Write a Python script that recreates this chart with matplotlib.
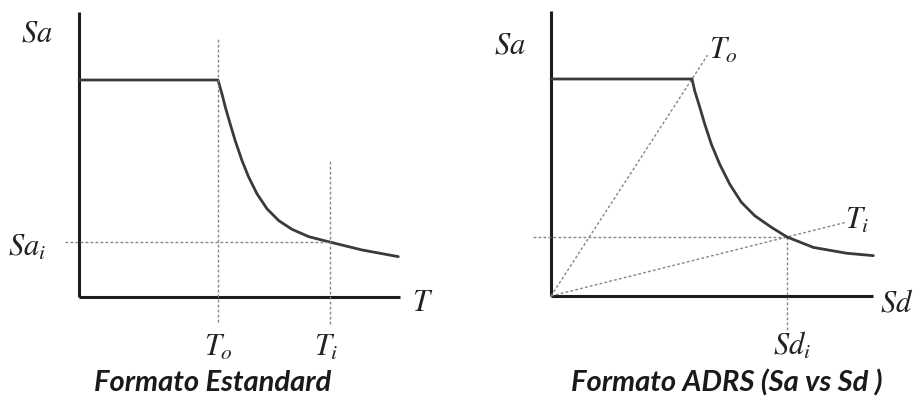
import matplotlib
matplotlib.use('Agg')
import matplotlib.pyplot as plt

# ── Spectrum data (normalised: plateau Sa = 1, corner period / displacement = 1) ──
# Standard format: Sa vs T
t_spec = [0.0, 1.0, 1.029, 1.053, 1.088, 1.124, 1.173, 1.221, 1.281, 1.353,
          1.437, 1.532, 1.653, 1.806, 2.034, 2.297]
sa_spec_t = [1.0, 1.0, 0.935, 0.874, 0.797, 0.720, 0.628, 0.552, 0.475, 0.406,
             0.352, 0.312, 0.278, 0.253, 0.217, 0.186]
t_o, t_i, sa_i_t = 1.0, 1.806, 0.253

# ADRS format: Sa vs Sd
sd_spec = [0.0, 1.0, 1.019, 1.055, 1.090, 1.137, 1.196, 1.267, 1.350, 1.445,
           1.562, 1.674, 1.860, 2.097, 2.286]
sa_spec_d = [1.0, 1.0, 0.946, 0.870, 0.793, 0.700, 0.608, 0.516, 0.432, 0.370,
             0.317, 0.272, 0.224, 0.197, 0.186]
sd_o, sd_i, sa_i_d = 1.0, 1.674, 0.272

# radial period lines (origin -> beyond the spectrum)
ray_o = [1.11, 1.11]
ray_i = [2.093, 0.34]

AXIS_COLOR = '#1c1c1c'
CURVE_COLOR = '#3a3a3a'
DOT_COLOR = '#858585'
DOTS = (0, (2.0, 1.6))

plt.rcParams['mathtext.fontset'] = 'stix'

W, H = 913, 402
fig = plt.figure(figsize=(W / 100, H / 100), dpi=100)


def make_axes(x0_px, y0_px, sx, sy, xlim, ylim):
    """Axes whose data origin lands at pixel (x0_px, y0_px) with sx, sy px per unit."""
    left = (x0_px + xlim[0] * sx) / W
    width = (xlim[1] - xlim[0]) * sx / W
    bottom = (H - y0_px + ylim[0] * sy) / H
    height = (ylim[1] - ylim[0]) * sy / H
    ax = fig.add_axes([left, bottom, width, height])
    ax.set_xlim(*xlim)
    ax.set_ylim(*ylim)
    ax.axis('off')
    return ax


lab = dict(fontsize=22, color='#222222', ha='center', va='center')

# ── Left: standard format ──────────────────────────────────────────────────
ax1 = make_axes(79, 298, 139, 217, (-0.55, 2.7), (-0.4, 1.37))
ax1.plot([0, 0], [0, 1.313], color=AXIS_COLOR, lw=2.2, solid_capstyle='butt')
ax1.plot([0, 2.31], [0, 0], color=AXIS_COLOR, lw=2.2, solid_capstyle='butt')
ax1.plot(t_spec, sa_spec_t, color=CURVE_COLOR, lw=2.0,
         solid_joinstyle='round', solid_capstyle='round')
ax1.plot([t_o, t_o], [-0.115, 1.189], color=DOT_COLOR, lw=1.0, ls=DOTS)
ax1.plot([t_i, t_i], [-0.124, 0.627], color=DOT_COLOR, lw=1.0, ls=DOTS)
ax1.plot([-0.1, t_i], [sa_i_t, sa_i_t], color=DOT_COLOR, lw=1.0, ls=DOTS)

ax1.text(-0.30, 1.221, r'$Sa$', **lab)
ax1.text(-0.37, sa_i_t - 0.02, r'$Sa_i$', **lab)
ax1.text(2.475, -0.023, r'$T$', **lab)
ax1.text(t_o, -0.226, r'$T_o$', **lab)
ax1.text(t_i - 0.03, -0.226, r'$T_i$', **lab)

# ── Right: ADRS format ─────────────────────────────────────────────────────
ax2 = make_axes(551, 297, 141, 217, (-0.45, 2.58), (-0.4, 1.37))
ax2.plot([0, 0], [0, 1.313], color=AXIS_COLOR, lw=2.2, solid_capstyle='butt')
ax2.plot([0, 2.284], [0, 0], color=AXIS_COLOR, lw=2.2, solid_capstyle='butt')
ax2.plot([0, ray_o[0]], [0, ray_o[1]], color=DOT_COLOR, lw=1.0, ls=DOTS)
ax2.plot([0, ray_i[0]], [0, ray_i[1]], color=DOT_COLOR, lw=1.0, ls=DOTS)
ax2.plot([-0.128, sd_i], [sa_i_d, sa_i_d], color=DOT_COLOR, lw=1.0, ls=DOTS)
ax2.plot([sd_i, sd_i], [sa_i_d, -0.166], color=DOT_COLOR, lw=1.0, ls=DOTS)
ax2.plot(sd_spec, sa_spec_d, color=CURVE_COLOR, lw=2.0,
         solid_joinstyle='round', solid_capstyle='round')

ax2.text(-0.29, 1.161, r'$Sa$', **lab)
ax2.text(1.22, 1.138, r'$T_o$', **lab)
ax2.text(2.17, 0.355, r'$T_i$', **lab)
ax2.text(2.45, -0.028, r'$Sd$', **lab)
ax2.text(sd_i + 0.035, -0.221, r'$Sd_i$', **lab)

# ── Panel captions ─────────────────────────────────────────────────────────
cap = dict(fontsize=21, fontweight='bold', style='italic', family='Lato',
           color='#1a1a1a', ha='center', va='center')
fig.text(213 / W, 1 - 383 / H, 'Formato Estandard', **cap)
fig.text(727 / W, 1 - 383 / H, 'Formato ADRS (Sa vs Sd )', **cap)

fig.savefig('out.png', dpi=100)
